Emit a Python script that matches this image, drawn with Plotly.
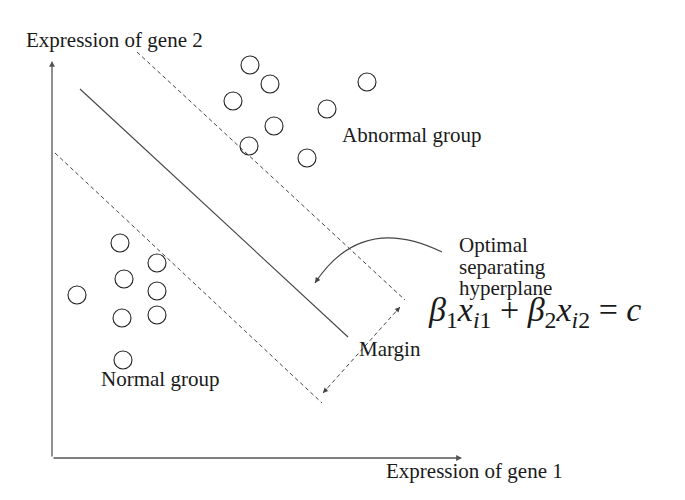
import math
import plotly.graph_objects as go

# ---- data (x = gene-1 expression units, y = gene-2 expression units) ----
abnormal_x = [250, 270, 233, 367, 327, 274, 249, 307]
abnormal_y = [435, 416, 399, 418, 391, 374, 354, 342]
normal_x = [120, 157, 124, 77, 157, 122, 157, 123]
normal_y = [257, 237, 221, 205, 209, 182, 185, 140]

hyperplane_x = [80, 348]
hyperplane_y = [411, 163]
upper_margin_x = [137, 405]
upper_margin_y = [448, 200]
lower_margin_x = [55, 322]
lower_margin_y = [347, 97]

margin_arrow_x = [323, 400]
margin_arrow_y = [107, 193]

curve_x = [442, 361.5, 315]   # start, control, end
curve_y = [248, 287.5, 217]

axis_origin = [52, 42]
xaxis_end = [462, 42]
yaxis_end = [52, 439]

FONT = "Liberation Serif"
INK = "#1a1a1a"
LINE = "#444444"
PAGE_OFFSET = 8  # page body margin

fig = go.Figure()

fig.add_trace(go.Scatter(x=hyperplane_x, y=hyperplane_y, mode="lines",
                         line=dict(color=LINE, width=1.1), hoverinfo="skip"))
for xs, ys in [(upper_margin_x, upper_margin_y), (lower_margin_x, lower_margin_y)]:
    fig.add_trace(go.Scatter(x=xs, y=ys, mode="lines",
                             line=dict(color=LINE, width=1, dash="4px,3px"), hoverinfo="skip"))
fig.add_trace(go.Scatter(x=margin_arrow_x, y=margin_arrow_y, mode="lines",
                         line=dict(color=LINE, width=1, dash="4px,3px"), hoverinfo="skip"))

for xs, ys in [(abnormal_x, abnormal_y), (normal_x, normal_y)]:
    fig.add_trace(go.Scatter(x=xs, y=ys, mode="markers",
                             marker=dict(symbol="circle-open", size=18,
                                         line=dict(color="#222222", width=1.1),
                                         color="#222222"),
                             hoverinfo="skip"))

# curved arrow
path = "M {},{} Q {},{} {},{}".format(curve_x[0], curve_y[0], curve_x[1], curve_y[1],
                                      curve_x[2], curve_y[2])
fig.add_shape(type="path", path=path, xref="x", yref="y",
              line=dict(color=LINE, width=1.1))

annotations = []

def arrow(tip, tail, color=LINE, width=1.1, head=2, size=1.0):
    annotations.append(dict(x=tip[0], y=tip[1], ax=tail[0], ay=tail[1],
                            xref="x", yref="y", axref="x", ayref="y",
                            text="", showarrow=True, arrowhead=head,
                            arrowsize=size, arrowwidth=width, arrowcolor=color,
                            standoff=0, startstandoff=0))

# axes
arrow(xaxis_end, axis_origin, color="#555555", width=1.3, head=2, size=0.9)
arrow(yaxis_end, axis_origin, color="#555555", width=1.3, head=2, size=0.9)

# margin arrow heads
dx = margin_arrow_x[1] - margin_arrow_x[0]
dy = margin_arrow_y[1] - margin_arrow_y[0]
L = math.hypot(dx, dy)
ux, uy = dx / L, dy / L
arrow((margin_arrow_x[1], margin_arrow_y[1]),
      (margin_arrow_x[1] - 8 * ux, margin_arrow_y[1] - 8 * uy), width=1, size=1.0)
arrow((margin_arrow_x[0], margin_arrow_y[0]),
      (margin_arrow_x[0] + 8 * ux, margin_arrow_y[0] + 8 * uy), width=1, size=1.0)

# curve arrowhead
cx, cy = curve_x[1] - curve_x[2], curve_y[1] - curve_y[2]
cl = math.hypot(cx, cy)
arrow((curve_x[2], curve_y[2]),
      (curve_x[2] + 8 * cx / cl, curve_y[2] + 8 * cy / cl), width=1.1, size=1.0)

def label(text, x, y, size=21, anchor="left"):
    annotations.append(dict(x=x, y=y, xref="x", yref="y", text=text, showarrow=False,
                            xanchor=anchor, yanchor="middle",
                            font=dict(family=FONT, size=size, color=INK)))

label("Expression of gene 2", 24, 460)
label("Expression of gene 1", 384, 29)
label("Abnormal group", 340, 365)
label("Normal group", 99, 121)
label("Optimal", 457, 255)
label("separating", 457, 233)
label("hyperplane", 457, 212)
label("Margin", 357, 151)
label("<i>β</i><sub>1</sub><i>x</i><sub><i>i</i>1</sub> + <i>β</i><sub>2</sub>"
      "<i>x</i><sub><i>i</i>2</sub> = <i>c</i>",
      426, 188, size=34)

fig.update_layout(
    width=685, height=500,
    margin=dict(l=0, r=0, t=0, b=0),
    paper_bgcolor="white", plot_bgcolor="white",
    showlegend=False,
    xaxis=dict(range=[PAGE_OFFSET, 685 + PAGE_OFFSET], visible=False, fixedrange=True),
    yaxis=dict(range=[-PAGE_OFFSET, 500 - PAGE_OFFSET], visible=False, fixedrange=True),
    annotations=annotations,
)

fig.write_html("out.html")
